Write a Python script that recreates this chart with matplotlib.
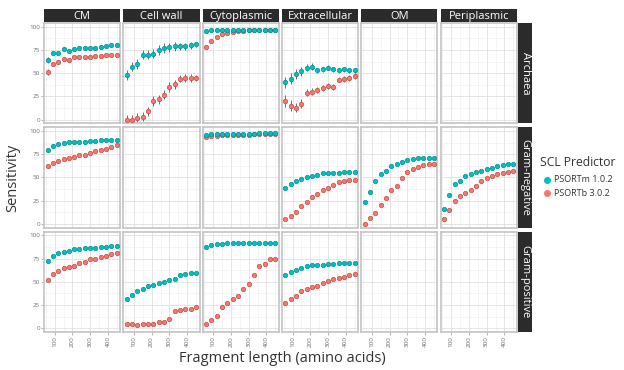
import numpy as np
import matplotlib
matplotlib.use("Agg")
import matplotlib.pyplot as plt
from matplotlib.ticker import MultipleLocator

plt.rcParams['font.family'] = ['Open Sans', 'DejaVu Sans']

# fragment lengths (amino acids)
frag_len = [60, 90, 120, 150, 180, 210, 240, 270, 300, 330, 360, 390, 420, 450]

locations = ["CM", "Cell wall", "Cytoplasmic", "Extracellular", "OM", "Periplasmic"]
organisms = ["Archaea", "Gram-negative", "Gram-positive"]
predictors = ["PSORTm 1.0.2", "PSORTb 3.0.2"]

# Archaea
arch_cm_m = [64, 72, 72, 76, 74, 76, 77, 77, 77, 77, 78, 79, 80, 80]
arch_cm_b = [51, 60, 62, 65, 64, 67, 67, 67, 67, 68, 69, 70, 70, 70]
arch_cw_m = [48, 57, 60, 70, 70, 71, 75, 77, 78, 79, 79, 79, 80, 81]
arch_cw_b = [0, 0, 2, 3, 9, 20, 22, 27, 35, 38, 44, 45, 45, 45]
arch_cy_m = [95, 97, 97, 97, 97, 97, 97, 97, 97, 97, 97, 97, 97, 97]
arch_cy_b = [78, 85, 89, 92, 93, 94, 95, 95, 96, 96, 96, 96, 97, 97]
arch_ex_m = [40, 44, 49, 52, 56, 57, 53, 54, 56, 54, 53, 54, 53, 53]
arch_ex_b = [20, 15, 13, 17, 29, 30, 32, 34, 36, 35, 43, 44, 45, 47]

# rough error bar half-widths seen in the Archaea row
arch_cm_e = [3, 2, 2, 2, 2, 2, 2, 2, 2, 2, 2, 2, 2, 2]
arch_cw_e = [5, 5, 5, 5, 5, 5, 5, 5, 5, 5, 4, 4, 4, 3]
arch_cy_e = [1, 1, 1, 1, 1, 1, 1, 1, 1, 1, 1, 1, 1, 1]
arch_ex_e = [6, 6, 5, 5, 4, 4, 3, 3, 3, 3, 3, 3, 3, 3]

# Gram-negative
gneg_cm_m = [80, 84, 86, 87, 88, 88, 88, 88, 89, 89, 90, 90, 90, 90]
gneg_cm_b = [62, 66, 68, 70, 71, 72, 74, 74, 76, 78, 80, 81, 83, 85]
gneg_cy_m = [96, 97, 97, 97, 97, 97, 97, 97, 97, 97, 98, 98, 98, 98]
gneg_cy_b = [94, 95, 95, 96, 96, 96, 96, 96, 96, 97, 97, 97, 97, 97]
gneg_ex_m = [39, 43, 46, 48, 50, 52, 53, 55, 55, 55, 55, 56, 56, 56]
gneg_ex_b = [5, 8, 13, 19, 24, 29, 32, 36, 39, 42, 45, 46, 47, 47]
gneg_om_m = [24, 34, 46, 54, 57, 62, 65, 67, 69, 70, 71, 71, 71, 71]
gneg_om_b = [0, 6, 12, 20, 28, 36, 41, 49, 56, 59, 61, 63, 64, 64]
gneg_pe_m = [16, 31, 43, 46, 52, 54, 56, 57, 59, 60, 62, 63, 64, 64]
gneg_pe_b = [5, 15, 25, 30, 33, 37, 41, 46, 49, 52, 54, 55, 56, 57]

# Gram-positive
gpos_cm_m = [72, 78, 81, 82, 83, 85, 85, 86, 86, 86, 87, 87, 88, 88]
gpos_cm_b = [52, 58, 62, 65, 66, 67, 70, 71, 74, 75, 77, 78, 80, 81]
gpos_cw_m = [31, 36, 40, 42, 45, 47, 49, 50, 52, 53, 57, 58, 59, 59]
gpos_cw_b = [4, 4, 3, 4, 4, 4, 7, 7, 10, 18, 20, 21, 21, 23]
gpos_cy_m = [87, 90, 91, 91, 92, 92, 92, 92, 92, 92, 92, 92, 92, 92]
gpos_cy_b = [5, 9, 13, 23, 27, 31, 35, 42, 48, 57, 67, 69, 74, 75]
gpos_ex_m = [57, 61, 63, 65, 67, 68, 68, 68, 69, 69, 70, 70, 70, 70]
gpos_ex_b = [27, 31, 35, 40, 42, 44, 45, 49, 51, 53, 54, 55, 57, 58]

# (row, col) -> (PSORTm, PSORTb, error)
panels = {
    (0, 0): (arch_cm_m, arch_cm_b, arch_cm_e),
    (0, 1): (arch_cw_m, arch_cw_b, arch_cw_e),
    (0, 2): (arch_cy_m, arch_cy_b, arch_cy_e),
    (0, 3): (arch_ex_m, arch_ex_b, arch_ex_e),
    (1, 0): (gneg_cm_m, gneg_cm_b, None),
    (1, 2): (gneg_cy_m, gneg_cy_b, None),
    (1, 3): (gneg_ex_m, gneg_ex_b, None),
    (1, 4): (gneg_om_m, gneg_om_b, None),
    (1, 5): (gneg_pe_m, gneg_pe_b, None),
    (2, 0): (gpos_cm_m, gpos_cm_b, None),
    (2, 1): (gpos_cw_m, gpos_cw_b, None),
    (2, 2): (gpos_cy_m, gpos_cy_b, None),
    (2, 3): (gpos_ex_m, gpos_ex_b, None),
}

colors = ["#00BFC4", "#F8766D"]
edges = ["#0a8f93", "#c0504a"]
strip_bg = "#2b2b2b"

W, H = 624, 370
fig = plt.figure(figsize=(W / 100, H / 100), dpi=100)

left0, top0 = 44, 23
pw, ph = 76.3, 100.3
gx, gy = 3.0, 4.0
strip_h, strip_w = 13, 14

def px_rect(x, y, w, h):
    return [x / W, 1 - (y + h) / H, w / W, h / H]

for r in range(3):
    for c in range(6):
        x = left0 + c * (pw + gx)
        y = top0 + r * (ph + gy)
        ax = fig.add_axes(px_rect(x, y, pw, ph))
        ax.set_xlim(40, 470)
        ax.set_ylim(-4, 104)
        ax.xaxis.set_major_locator(MultipleLocator(100))
        ax.xaxis.set_minor_locator(MultipleLocator(50))
        ax.yaxis.set_major_locator(MultipleLocator(25))
        ax.yaxis.set_minor_locator(MultipleLocator(12.5))
        ax.set_xticks([100, 200, 300, 400])
        ax.set_yticks([0, 25, 50, 75, 100])
        ax.grid(which="major", color="#e0e0e0", lw=0.6)
        ax.grid(which="minor", color="#eeeeee", lw=0.4)
        ax.set_axisbelow(True)
        for s in ax.spines.values():
            s.set_color("#c4c4c4")
            s.set_linewidth(1.2)
        ax.tick_params(which="minor", length=0)
        ax.tick_params(which="major", length=2, width=0.5, color="#9a9a9a",
                       labelsize=4.5, labelcolor="#707070", pad=1)
        if c == 0:
            ax.set_yticklabels(["0", "25", "50", "75", "100"])
        else:
            ax.tick_params(axis="y", left=False, labelleft=False)
        if r == 2:
            ax.set_xticklabels(["100", "200", "300", "400"], rotation=90)
        else:
            ax.tick_params(axis="x", bottom=False, labelbottom=False)

        if (r, c) in panels:
            m, b, e = panels[(r, c)]
            for vals, col, ec in ((b, colors[1], edges[1]), (m, colors[0], edges[0])):
                if e is not None:
                    ax.errorbar(frag_len, vals, yerr=e, fmt="none",
                                ecolor="#5a5a5a", elinewidth=0.6, zorder=2)
                ax.plot(frag_len, vals, "o", ms=3.2, color=col,
                        mec=ec, mew=0.5, zorder=3)

        if r == 0:
            sax = fig.add_axes(px_rect(x, top0 - strip_h - 1, pw, strip_h))
            sax.set_facecolor(strip_bg)
            sax.set_xticks([]); sax.set_yticks([])
            for s in sax.spines.values():
                s.set_visible(False)
            sax.text(0.5, 0.45, locations[c], color="white", fontsize=8,
                     ha="center", va="center", transform=sax.transAxes)
        if c == 5:
            sax = fig.add_axes(px_rect(x + pw + 1.5, y, strip_w, ph))
            sax.set_facecolor(strip_bg)
            sax.set_xticks([]); sax.set_yticks([])
            for s in sax.spines.values():
                s.set_visible(False)
            sax.text(0.5, 0.5, organisms[r], color="white", fontsize=8,
                     ha="center", va="center", rotation=-90,
                     transform=sax.transAxes)

fig.text(282 / W, 1 - 358 / H, "Fragment length (amino acids)", fontsize=10.5,
         color="#333333", ha="center", va="center")
fig.text(13 / W, 1 - 178 / H, "Sensitivity", fontsize=10.5, color="#333333",
         ha="center", va="center", rotation=90)

# legend
fig.text(540 / W, 1 - 162 / H, "SCL Predictor", fontsize=8.7, color="#333333",
         ha="left", va="center")
for i, lab in enumerate(predictors):
    yy = 1 - (180 + i * 13) / H
    fig.lines.append(plt.Line2D([547 / W], [yy], marker="o", ms=4,
                                color=colors[i], mec=colors[i],
                                transform=fig.transFigure))
    fig.text(554 / W, yy, lab, fontsize=6.5, color="#333333",
             ha="left", va="center")

fig.savefig("out.png", dpi=100, facecolor="white")
